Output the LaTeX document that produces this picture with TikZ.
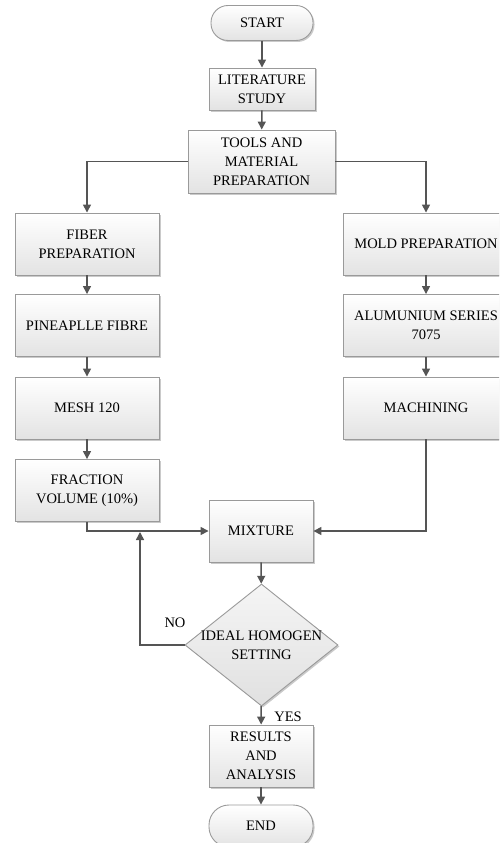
\documentclass[tikz,border=0pt]{standalone}
\usepackage{fontspec}
\setmainfont{Liberation Serif}
\usetikzlibrary{shapes.geometric,arrows.meta,shadows}
\definecolor{linegray}{HTML}{555555}
\definecolor{edgegray}{HTML}{9A9A9A}
\begin{document}
\begin{tikzpicture}[x=1pt,y=-1pt]
\tikzstyle{every node}+=[font=\rmfamily\fontsize{14.5}{19}\selectfont, align=center, inner sep=0pt]
\tikzstyle{stepbox}=[rectangle, draw=edgegray, line width=0.9pt, shading=axis, top color=white, bottom color=black!11, drop shadow={shadow xshift=1.5pt, shadow yshift=-1.5pt, fill=black!35, opacity=0.6}]
\tikzstyle{termbox}=[stepbox, rounded corners=17pt, minimum width=102pt, minimum height=35pt]
\tikzstyle{decision}=[diamond, draw=edgegray, line width=0.9pt, shading=axis, top color=black!4, bottom color=black!12, minimum width=153pt, minimum height=122pt, drop shadow={shadow xshift=1.5pt, shadow yshift=-1.5pt, fill=black!35, opacity=0.6}]
\tikzstyle{flow}=[draw=linegray, line width=1.5pt, -{Triangle[length=8pt,width=8pt]}]
\clip (0,0) rectangle (499,843);
\node[termbox] (start) at (262,23) {START};
\node[stepbox, minimum width=106pt, minimum height=42pt] (lit) at (262,89) {LITERATURE\\STUDY};
\node[stepbox, minimum width=147pt, minimum height=63pt] (tools) at (261.5,161.5) {TOOLS AND\\MATERIAL\\PREPARATION};
\node[stepbox, minimum width=144pt, minimum height=62pt] (fiber) at (87,244) {FIBER\\PREPARATION};
\node[stepbox, minimum width=144pt, minimum height=62pt] (pine) at (87,325.5) {PINEAPLLE FIBRE};
\node[stepbox, minimum width=144pt, minimum height=62pt] (mesh) at (87,408) {MESH 120};
\node[stepbox, minimum width=144pt, minimum height=62pt] (frac) at (87,490.5) {FRACTION\\VOLUME (10\%)};
\node[stepbox, minimum width=166pt, minimum height=62pt] (mold) at (426,244) {MOLD PREPARATION};
\node[stepbox, minimum width=166pt, minimum height=62pt] (alu) at (426,325.5) {ALUMUNIUM SERIES\\7075};
\node[stepbox, minimum width=166pt, minimum height=62pt] (mach) at (426,408) {MACHINING};
\node[stepbox, minimum width=104pt, minimum height=62pt] (mix) at (261,531) {MIXTURE};
\node[decision, label={[align=center]center:IDEAL HOMOGEN\\SETTING}] (dec) at (261.5,645) {};
\node[stepbox, minimum width=104pt, minimum height=62pt] (res) at (261,756) {RESULTS\\AND\\ANALYSIS};
\node[termbox, minimum width=104pt, minimum height=42pt, rounded corners=20pt] (end) at (261,826) {END};
\coordinate (noend) at (140,532);
\draw[flow] (start) -- (lit);
\draw[flow] (lit) -- (tools);
\draw[flow] (tools.west) -| (fiber.north);
\draw[flow] (tools.east) -| (mold.north);
\draw[flow] (fiber) -- (pine);
\draw[flow] (pine) -- (mesh);
\draw[flow] (mesh) -- (frac);
\draw[flow] (mold) -- (alu);
\draw[flow] (alu) -- (mach);
\draw[flow] (frac.south) |- (mix.west);
\draw[flow] (mach.south) |- (mix.east);
\draw[flow] (mix) -- (dec);
\draw[flow] (dec.west) -| (noend);
\draw[flow] (dec) -- (res);
\draw[flow] (res) -- (end);
\node (no) at (175,623) {NO};
\node (yes) at (288,717) {YES};
\end{tikzpicture}
\end{document}
